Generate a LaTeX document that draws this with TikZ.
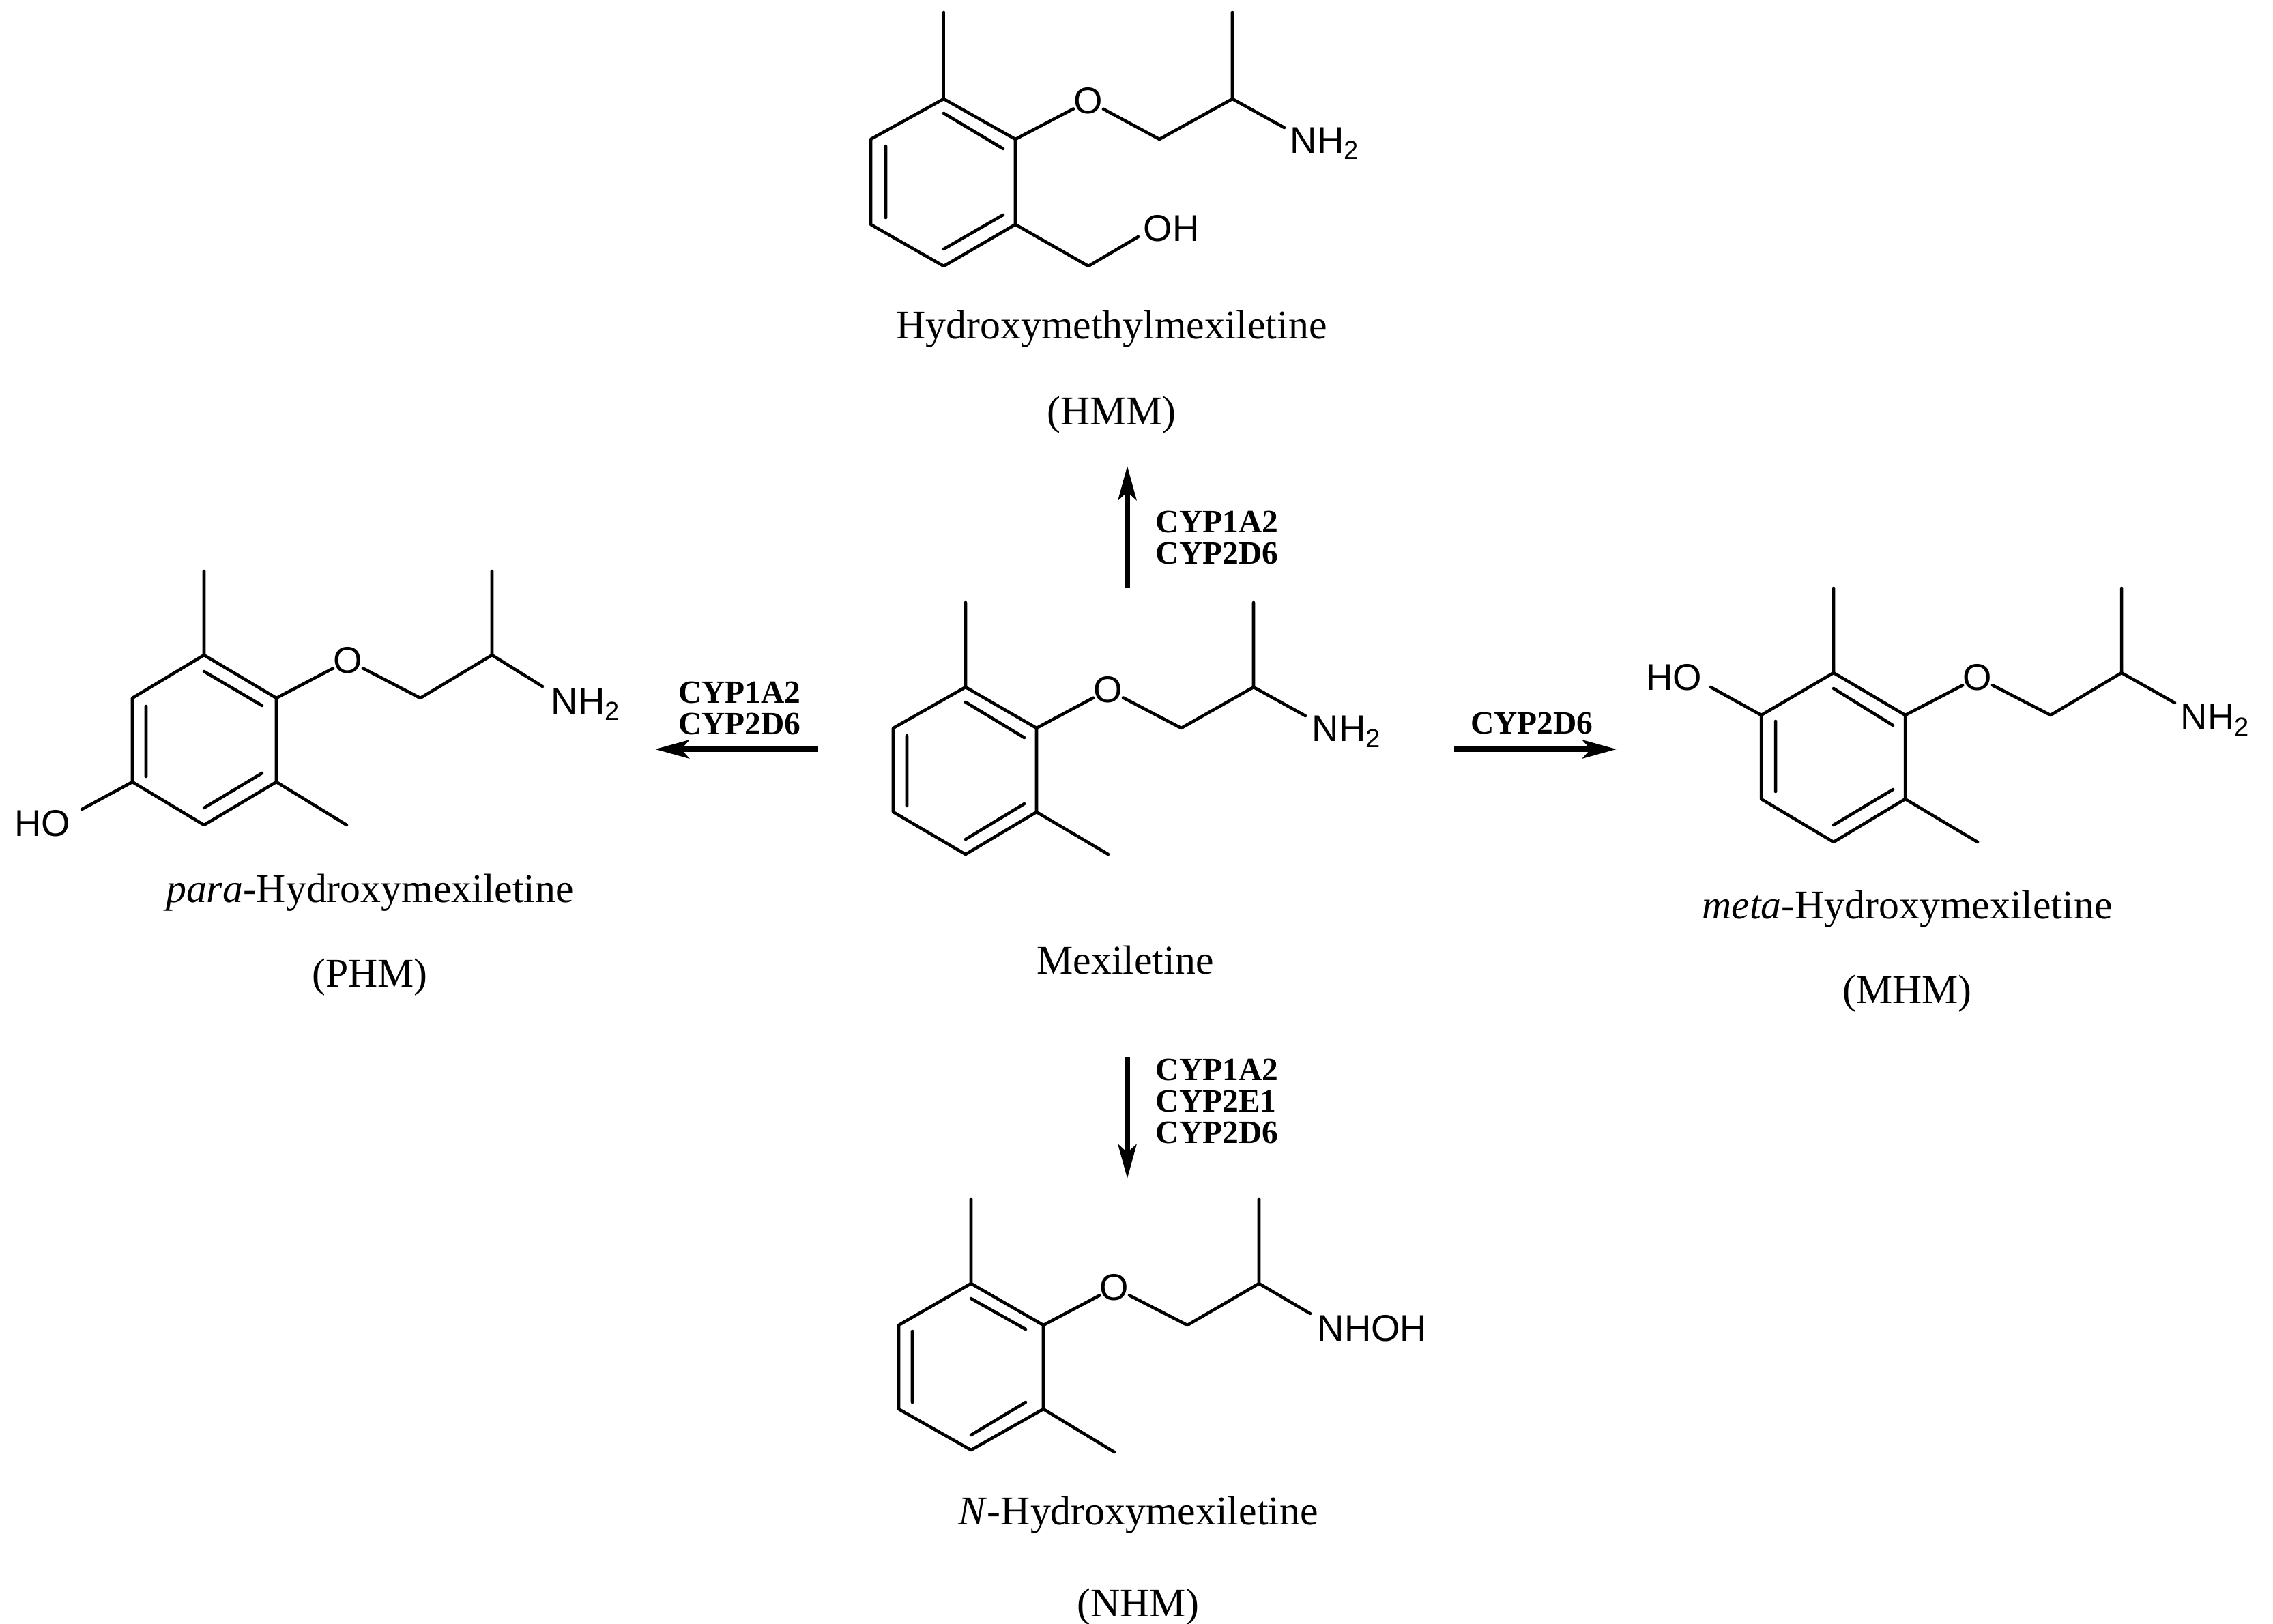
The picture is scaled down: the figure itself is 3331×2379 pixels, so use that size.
\documentclass[tikz,border=0pt]{standalone}
\usepackage{fontspec}
\setmainfont{Liberation Serif}
\newfontfamily\atomfont{Liberation Sans}
\usetikzlibrary{arrows.meta}
\begin{document}
\begin{tikzpicture}[x=0.01cm,y=-0.01cm,
  bond/.style={line width=1.3pt,line cap=round,line join=round},
  rx/.style={line width=2pt,-{Stealth[length=0.5cm,width=0.27cm,inset=0.12cm]}},
  atom/.style={inner sep=0pt,font=\atomfont\fontsize{15.5}{18}\selectfont},
  lbl/.style={font=\fontsize{17}{20}\selectfont},
  enz/.style={font=\bfseries\fontsize{13.5}{16}\selectfont,align=left,inner sep=0pt}]
\useasboundingbox (0,0) rectangle (3331,2379);

% ---------- Mexiletine (centre)
\coordinate (mT) at (1415,1007); \coordinate (mTR) at (1519,1067);
\coordinate (mBR) at (1519,1190); \coordinate (mB) at (1415,1252);
\coordinate (mBL) at (1309,1190); \coordinate (mTL) at (1309,1067);
\draw[bond] (mT)--(mTR)--(mBR)--(mB)--(mBL)--(mTL)--cycle;
\draw[bond] (1329,1078)--(1329,1181) (1415,1029)--(1501,1081) (1501,1178)--(1415,1230);
\draw[bond] (mT)--(1415,883) (mBR)--(1624,1252);
\node[atom] (mO) at (1624,1011) {O};
\coordinate (mC1) at (1731,1067); \coordinate (mC2) at (1837,1007);
\draw[bond] (mTR)--(mO) (mO)--(mC1)--(mC2)--(1837,883);
\node[atom,anchor=west] (mN) at (1922,1072) {NH\textsubscript{2}};
\draw[bond] (mC2)--(1913,1049);
\node[lbl] (mname) at (1649,1407) {Mexiletine};

% ---------- HMM (top)
\coordinate (hT) at (1383,145); \coordinate (hTR) at (1488,204);
\coordinate (hBR) at (1488,329); \coordinate (hB) at (1383,390);
\coordinate (hBL) at (1276,329); \coordinate (hTL) at (1276,204);
\draw[bond] (hT)--(hTR)--(hBR)--(hB)--(hBL)--(hTL)--cycle;
\draw[bond] (1298,214)--(1298,319) (1383,166)--(1470,218) (1470,315)--(1383,365);
\draw[bond] (hT)--(1383,18);
\node[atom] (hO) at (1595,148) {O};
\coordinate (hC1) at (1699,204); \coordinate (hC2) at (1806,145);
\draw[bond] (hTR)--(hO) (hO)--(hC1)--(hC2)--(1806,18);
\node[atom,anchor=west] (hN) at (1890,210) {NH\textsubscript{2}};
\draw[bond] (hC2)--(1882,187);
\coordinate (hC3) at (1595,390);
\node[atom,anchor=west] (hOH) at (1675,335) {OH};
\draw[bond] (hBR)--(hC3)--(1668,347);
\node[lbl] (hname) at (1629,482) {Hydroxymethylmexiletine};
\node[lbl] (hab) at (1629,608) {(HMM)};

% ---------- PHM (left)
\coordinate (pT) at (299,960); \coordinate (pTR) at (405,1023);
\coordinate (pBR) at (405,1146); \coordinate (pB) at (299,1209);
\coordinate (pBL) at (194,1146); \coordinate (pTL) at (194,1023);
\draw[bond] (pT)--(pTR)--(pBR)--(pB)--(pBL)--(pTL)--cycle;
\draw[bond] (214,1035)--(214,1138) (299,984)--(384,1034) (384,1133)--(299,1184);
\draw[bond] (pT)--(299,837) (pBR)--(508,1209);
\node[atom] (pO) at (510,968) {O};
\coordinate (pC1) at (616,1023); \coordinate (pC2) at (721,960);
\draw[bond] (pTR)--(pO) (pO)--(pC1)--(pC2)--(721,837);
\node[atom,anchor=west] (pN) at (807,1032) {NH\textsubscript{2}};
\draw[bond] (pC2)--(795,1006);
\node[atom] (pOH) at (62,1207) {HO};
\draw[bond] (pBL)--(120,1186);
\node[lbl] (pname) at (542,1308) {\textit{para}-Hydroxymexiletine};
\node[lbl] (pab) at (542,1432) {(PHM)};

% ---------- MHM (right)
\coordinate (rT) at (2687,986); \coordinate (rTR) at (2792,1048);
\coordinate (rBR) at (2792,1171); \coordinate (rB) at (2687,1234);
\coordinate (rBL) at (2581,1171); \coordinate (rTL) at (2581,1048);
\draw[bond] (rT)--(rTR)--(rBR)--(rB)--(rBL)--(rTL)--cycle;
\draw[bond] (2602,1057)--(2602,1160) (2687,1009)--(2774,1063) (2774,1157)--(2687,1209);
\draw[bond] (rT)--(2687,862) (rBR)--(2898,1234);
\node[atom] (rHO) at (2453,993) {HO};
\draw[bond] (rTL)--(2507,1007);
\node[atom] (rO) at (2898,993) {O};
\coordinate (rC1) at (3005,1048); \coordinate (rC2) at (3109,986);
\draw[bond] (rTR)--(rO) (rO)--(rC1)--(rC2)--(3109,862);
\node[atom,anchor=west] (rN) at (3195,1055) {NH\textsubscript{2}};
\draw[bond] (rC2)--(3187,1030);
\node[lbl] (rname) at (2795,1332) {\textit{meta}-Hydroxymexiletine};
\node[lbl] (rab) at (2795,1456) {(MHM)};

% ---------- NHM (bottom)
\coordinate (nT) at (1423,1881); \coordinate (nTR) at (1529,1942);
\coordinate (nBR) at (1529,2065); \coordinate (nB) at (1423,2125);
\coordinate (nBL) at (1317,2065); \coordinate (nTL) at (1317,1942);
\draw[bond] (nT)--(nTR)--(nBR)--(nB)--(nBL)--(nTL)--cycle;
\draw[bond] (1337,1951)--(1337,2055) (1423,1903)--(1503,1948) (1503,2055)--(1423,2103);
\draw[bond] (nT)--(1423,1757) (nBR)--(1633,2128);
\node[atom] (nO) at (1633,1887) {O};
\coordinate (nC1) at (1740,1942); \coordinate (nC2) at (1845,1881);
\draw[bond] (nTR)--(nO) (nO)--(nC1)--(nC2)--(1845,1757);
\node[atom,anchor=west] (nN) at (1930,1947) {NHOH};
\draw[bond] (nC2)--(1920,1925);
\node[lbl] (nname) at (1668,2220) {\textit{N}-Hydroxymexiletine};
\node[lbl] (nab) at (1668,2355) {(NHM)};

% ---------- reaction arrows
\coordinate (aUt) at (1652,861); \coordinate (aUh) at (1652,683);
\draw[rx] (aUt)--(aUh);
\node[enz,anchor=west] (eU) at (1693,788) {CYP1A2\\[-3pt]CYP2D6};

\coordinate (aLt) at (1199,1098); \coordinate (aLh) at (960,1098);
\draw[rx] (aLt)--(aLh);
\node[enz,align=center] (eL) at (1084,1038) {CYP1A2\\[-3pt]CYP2D6};

\coordinate (aRt) at (2131,1098); \coordinate (aRh) at (2369,1098);
\draw[rx] (aRt)--(aRh);
\node[enz] (eR) at (2245,1060) {CYP2D6};

\coordinate (aDt) at (1652,1549); \coordinate (aDh) at (1652,1727);
\draw[rx] (aDt)--(aDh);
\node[enz,anchor=west] (eD) at (1693,1614) {CYP1A2\\[-3pt]CYP2E1\\[-3pt]CYP2D6};
\end{tikzpicture}
\end{document}
